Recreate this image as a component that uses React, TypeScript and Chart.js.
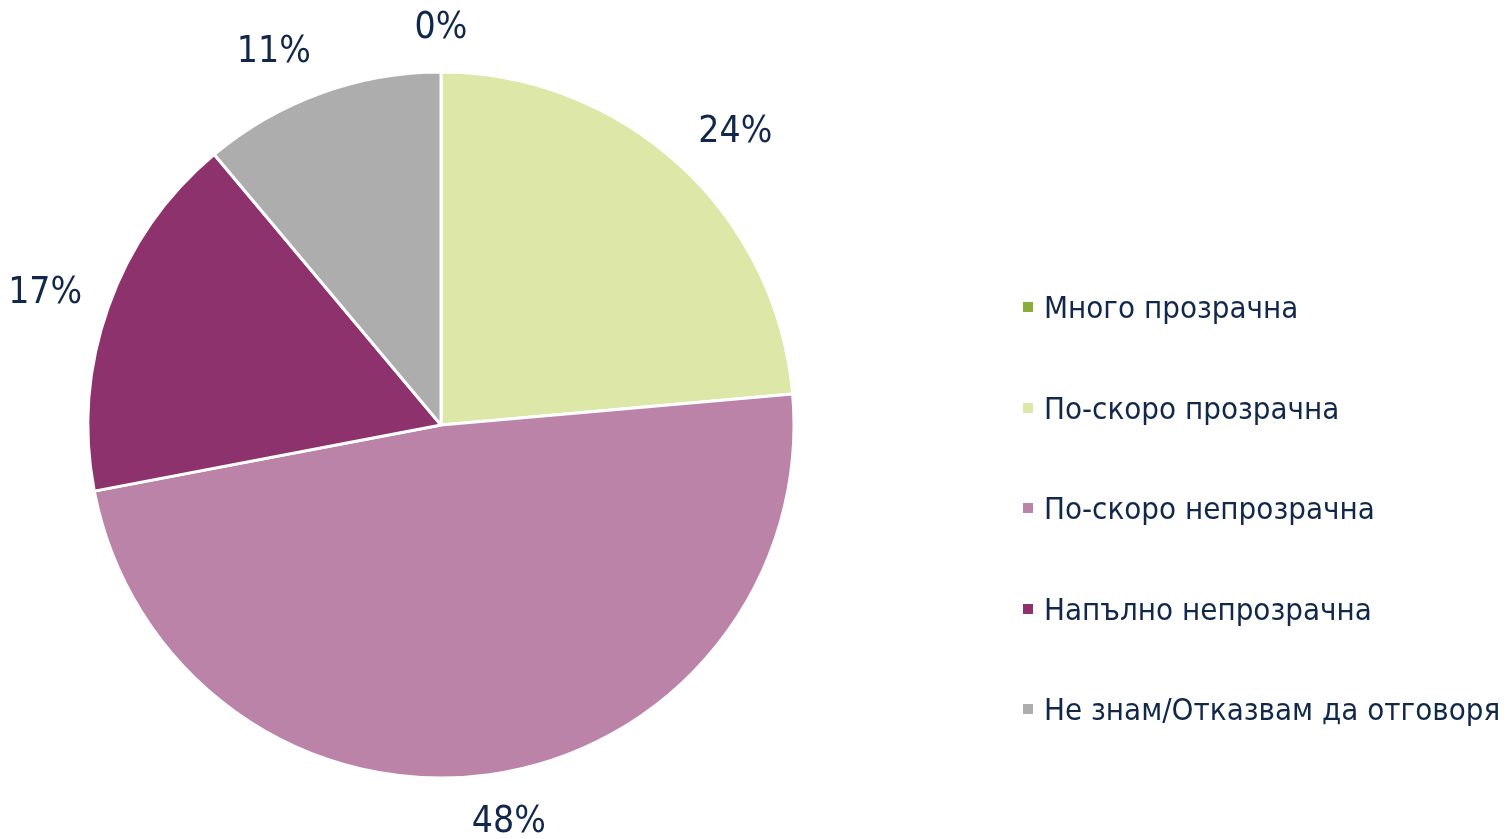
import React, { useEffect, useRef } from "react";
import { Chart, registerables } from "chart.js";

Chart.register(...registerables);

const categories = [
  "Много прозрачна",
  "По-скоро прозрачна",
  "По-скоро непрозрачна",
  "Напълно непрозрачна",
  "Не знам/Отказвам да отговоря",
];
const values = [0, 23.6, 48.4, 16.9, 11.1];
const colors = ["#8aac3c", "#dde7a7", "#bc83a9", "#8e326d", "#adadae"];
const textColor = "#12284a";
const legendFont = "'DejaVu Sans Condensed', 'DejaVu Sans', Tahoma, sans-serif";
const labelFont = "'DejaVu Sans Condensed', 'DejaVu Sans', sans-serif";

const labelPlugin = {
  id: "outsideLabels",
  afterDatasetsDraw(chart: any) {
    const ctx = chart.ctx;
    const meta = chart.getDatasetMeta(0);
    ctx.save();
    ctx.font = `37px ${labelFont}`;
    ctx.fillStyle = textColor;
    ctx.textAlign = "center";
    ctx.textBaseline = "middle";
    meta.data.forEach((arc: any, i: number) => {
      const { x, y, startAngle, endAngle, outerRadius } = arc.getProps(
        ["x", "y", "startAngle", "endAngle", "outerRadius"],
        true
      );
      const mid = (startAngle + endAngle) / 2;
      const text = Math.round(values[i]) + "%";
      const w = ctx.measureText(text).width;
      const h = 36;
      const r = outerRadius + 28;
      const fx = Math.max(-1, Math.min(1, 3 * Math.cos(mid)));
      const fy = Math.sin(mid);
      const cx = x + Math.cos(mid) * r + (fx * w) / 2;
      const cy = y + Math.sin(mid) * r + (fy * h) / 2;
      ctx.fillText(text, cx, cy + 2);
    });
    ctx.restore();
  },
};

export default function App() {
  const ref = useRef<HTMLCanvasElement | null>(null);
  useEffect(() => {
    if (!ref.current) return;
    const chart = new Chart(ref.current, {
      type: "pie",
      data: {
        labels: categories,
        datasets: [
          {
            data: values,
            backgroundColor: colors,
            borderColor: "#ffffff",
            borderWidth: 3,
          },
        ],
      },
      options: {
        responsive: false,
        animation: false,
        radius: 353,
        layout: { padding: { left: 0, right: 626, top: 11, bottom: 0 } },
        plugins: {
          legend: { display: false },
          tooltip: { enabled: false },
        },
      } as any,
      plugins: [labelPlugin],
    });
    return () => chart.destroy();
  }, []);

  return (
    <div
      style={{
        position: "fixed",
        left: 0,
        top: 0,
        width: 1508,
        height: 839,
        background: "#fff",
        overflow: "hidden",
      }}
    >
      <canvas ref={ref} width={1508} height={839} style={{ display: "block" }} />
      {categories.map((c, i) => (
        <div
          key={c}
          style={{
            position: "absolute",
            left: 1023,
            top: 307 + i * 100.5 - 18,
            height: 36,
            display: "flex",
            alignItems: "center",
            whiteSpace: "nowrap",
            fontFamily: legendFont,
            fontSize: 31,
            color: textColor,
          }}
        >
          <span
            style={{
              display: "inline-block",
              width: 10,
              height: 10,
              background: colors[i],
              marginRight: 11,
            }}
          />
          {c}
        </div>
      ))}
    </div>
  );
}
